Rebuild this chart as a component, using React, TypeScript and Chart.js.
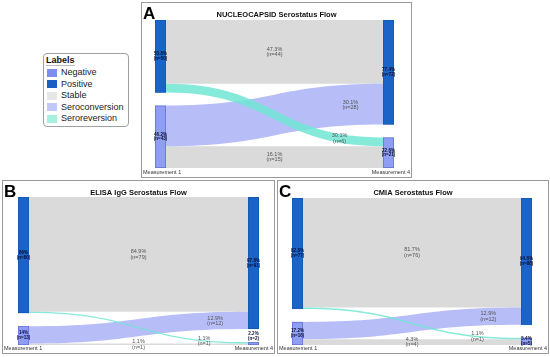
import React, { useEffect, useRef } from 'react';
import { Chart, registerables } from 'chart.js';
Chart.register(...registerables);

// ---------- data ----------
const measurementLabels = ['Measurement 1', 'Measurement 4'];
const stateNames = ['Positive', 'Negative'];
// flows: [stable positive, seroreversion (Pos->Neg), seroconversion (Neg->Pos), stable negative]
const flowTypes = ['Stable', 'Seroreversion', 'Seroconversion', 'Stable'];
const flowSource = [0, 0, 1, 1];
const flowTarget = [0, 1, 0, 1];

// NUCLEOCAPSID
const nucTitle = 'NUCLEOCAPSID Serostatus Flow';
const nucM1Counts = [50, 43];
const nucM1Pct = ['53.8%', '46.2%'];
const nucM4Counts = [72, 21];
const nucM4Pct = ['77.4%', '22.6%'];
const nucFlowCounts = [44, 6, 28, 15];
const nucFlowPct = ['47.3%', '30.1%', '30.1%', '16.1%'];

// ELISA IgG
const elisaTitle = 'ELISA IgG Serostatus Flow';
const elisaM1Counts = [80, 13];
const elisaM1Pct = ['86%', '14%'];
const elisaM4Counts = [91, 2];
const elisaM4Pct = ['97.8%', '2.2%'];
const elisaFlowCounts = [79, 1, 12, 1];
const elisaFlowPct = ['84.9%', '1.1%', '12.9%', '1.1%'];

// CMIA
const cmiaTitle = 'CMIA Serostatus Flow';
const cmiaM1Counts = [77, 16];
const cmiaM1Pct = ['82.8%', '17.2%'];
const cmiaM4Counts = [88, 5];
const cmiaM4Pct = ['94.6%', '5.4%'];
const cmiaFlowCounts = [76, 1, 12, 4];
const cmiaFlowPct = ['81.7%', '1.1%', '12.9%', '4.3%'];

const legendLabels = ['Negative', 'Positive', 'Stable', 'Seroconversion', 'Seroreversion'];

// ---------- styles ----------
const FONT = '"Liberation Sans", Arial, sans-serif';
const GAP_UNITS = 9;
const NODE_W = 11;
const nodeColors: Record<string, string> = { Positive: '#1a64c8', Negative: '#8f9ef2' };
const nodeBorders: Record<string, string> = { Positive: '#1656b0', Negative: '#5f6fd6' };
const flowColors: Record<string, string> = {
  Stable: 'rgba(216,216,216,0.95)',
  Seroconversion: 'rgba(176,183,246,0.92)',
  Seroreversion: 'rgba(112,230,212,0.85)',
};
const legendColors = ['#7d8ef0', '#1a5fc4', '#e6e6e6', '#c3c7f8', '#a6f0e0'];
const labelFrac: Record<string, number> = { Stable: 0.5, Seroconversion: 0.85, Seroreversion: 0.8 };
const drawOrder = ['Stable', 'Seroconversion', 'Seroreversion'];

type Panel = {
  letter: string;
  title: string;
  m1: number[];
  m1Pct: string[];
  m4: number[];
  m4Pct: string[];
  flows: number[];
  flowPct: string[];
  box: { x: number; y: number; w: number; h: number };
  pad: { left: number; right: number; top: number; bottom: number };
};

const panels: Panel[] = [
  {
    letter: 'A', title: nucTitle, m1: nucM1Counts, m1Pct: nucM1Pct, m4: nucM4Counts, m4Pct: nucM4Pct,
    flows: nucFlowCounts, flowPct: nucFlowPct,
    box: { x: 141, y: 2, w: 271, h: 176 }, pad: { left: 14, right: 18, top: 18, bottom: 10 },
  },
  {
    letter: 'B', title: elisaTitle, m1: elisaM1Counts, m1Pct: elisaM1Pct, m4: elisaM4Counts, m4Pct: elisaM4Pct,
    flows: elisaFlowCounts, flowPct: elisaFlowPct,
    box: { x: 2, y: 180, w: 273, h: 174 }, pad: { left: 16, right: 16, top: 17, bottom: 9 },
  },
  {
    letter: 'C', title: cmiaTitle, m1: cmiaM1Counts, m1Pct: cmiaM1Pct, m4: cmiaM4Counts, m4Pct: cmiaM4Pct,
    flows: cmiaFlowCounts, flowPct: cmiaFlowPct,
    box: { x: 277, y: 180, w: 272, h: 174 }, pad: { left: 15, right: 17, top: 18, bottom: 9 },
  },
];

function bez(p0: number, p1: number, p2: number, p3: number, t: number) {
  const u = 1 - t;
  return u * u * u * p0 + 3 * u * u * t * p1 + 3 * u * t * t * p2 + t * t * t * p3;
}

function starts(counts: number[]) {
  const s: number[] = [];
  let acc = 0;
  counts.forEach((c) => {
    s.push(acc);
    acc += c + GAP_UNITS;
  });
  return s;
}

function makePlugin(p: Panel) {
  return {
    id: 'sankey' + p.letter,
    afterDraw(chart: any) {
      const ctx: CanvasRenderingContext2D = chart.ctx;
      const xs = chart.scales.x;
      const ys = chart.scales.y;
      const W = chart.width;
      const H = chart.height;
      ctx.save();
      // frame
      ctx.strokeStyle = '#9a9a9a';
      ctx.lineWidth = 1;
      ctx.strokeRect(0.5, 0.5, W - 1, H - 1);
      // letter
      ctx.fillStyle = '#000';
      ctx.font = `bold 17px ${FONT}`;
      ctx.textAlign = 'left';
      ctx.textBaseline = 'alphabetic';
      ctx.fillText(p.letter, 2, 16.5);
      // title
      ctx.font = `bold 7.5px ${FONT}`;
      ctx.textAlign = 'center';
      ctx.textBaseline = 'middle';
      ctx.fillStyle = '#111';
      ctx.fillText(p.title, W / 2, 12.5);
      // measurement labels
      ctx.font = `5.5px ${FONT}`;
      ctx.fillStyle = '#333';
      ctx.textAlign = 'left';
      ctx.fillText(measurementLabels[0], 2, H - 5.5);
      ctx.textAlign = 'right';
      ctx.fillText(measurementLabels[1], W - 2, H - 5.5);

      const xL0 = xs.getPixelForValue(0);
      const xL1 = xL0 + NODE_W;
      const xR1 = xs.getPixelForValue(1);
      const xR0 = xR1 - NODE_W;
      const xm = (xL1 + xR0) / 2;
      const sL = starts(p.m1);
      const sR = starts(p.m4);
      const offL = [...sL];
      const offR = [...sR];
      const geo = p.flows.map((c, i) => {
        const a0 = offL[flowSource[i]];
        offL[flowSource[i]] += c;
        const b0 = offR[flowTarget[i]];
        offR[flowTarget[i]] += c;
        return {
          ya0: ys.getPixelForValue(a0), ya1: ys.getPixelForValue(a0 + c),
          yb0: ys.getPixelForValue(b0), yb1: ys.getPixelForValue(b0 + c),
        };
      });
      // flows
      drawOrder.forEach((type) => {
        p.flows.forEach((c, i) => {
          if (flowTypes[i] !== type) return;
          const g = geo[i];
          ctx.fillStyle = flowColors[type];
          ctx.beginPath();
          ctx.moveTo(xL1, g.ya0);
          ctx.bezierCurveTo(xm, g.ya0, xm, g.yb0, xR0, g.yb0);
          ctx.lineTo(xR0, g.yb1);
          ctx.bezierCurveTo(xm, g.yb1, xm, g.ya1, xL1, g.ya1);
          ctx.closePath();
          ctx.fill();
        });
      });
      // flow labels
      ctx.font = `5.5px ${FONT}`;
      ctx.fillStyle = '#555';
      ctx.textAlign = 'center';
      ctx.textBaseline = 'middle';
      p.flows.forEach((c, i) => {
        const g = geo[i];
        const f = labelFrac[flowTypes[i]];
        const targetX = xL1 + f * (xR0 - xL1);
        let lo = 0, hi = 1;
        for (let k = 0; k < 30; k++) {
          const mid = (lo + hi) / 2;
          if (bez(xL1, xm, xm, xR0, mid) < targetX) lo = mid; else hi = mid;
        }
        const t = (lo + hi) / 2;
        const ya = (g.ya0 + g.ya1) / 2;
        const yb = (g.yb0 + g.yb1) / 2;
        const y = bez(ya, ya, yb, yb, t);
        ctx.fillText(p.flowPct[i], targetX, y - 2.8);
        ctx.fillText(`(n=${c})`, targetX, y + 2.8);
      });
      // nodes
      const drawNodes = (counts: number[], pct: string[], s: number[], x0: number) => {
        counts.forEach((c, i) => {
          const name = stateNames[i];
          const y0 = ys.getPixelForValue(s[i]);
          const y1 = ys.getPixelForValue(s[i] + c);
          ctx.fillStyle = nodeColors[name];
          ctx.fillRect(x0, y0, NODE_W, y1 - y0);
          ctx.strokeStyle = nodeBorders[name];
          ctx.lineWidth = 0.7;
          ctx.strokeRect(x0 + 0.35, y0 + 0.35, NODE_W - 0.7, y1 - y0 - 0.7);
          let cy = (y0 + y1) / 2;
          if (y1 - y0 < 6) cy = y0 - 6;
          ctx.font = `bold 4.5px ${FONT}`;
          ctx.fillStyle = '#0b0b30';
          ctx.textAlign = 'center';
          ctx.textBaseline = 'middle';
          ctx.fillText(pct[i], x0 + NODE_W / 2, cy - 2.4);
          ctx.fillText(`(n=${c})`, x0 + NODE_W / 2, cy + 2.4);
        });
      };
      drawNodes(p.m1, p.m1Pct, sL, xL0);
      drawNodes(p.m4, p.m4Pct, sR, xR0);
      ctx.restore();
    },
  };
}

function makeChart(canvas: HTMLCanvasElement, p: Panel) {
  const total = p.m1.reduce((a, b) => a + b, 0) + GAP_UNITS * (p.m1.length - 1);
  return new Chart(canvas, {
    type: 'scatter',
    data: { datasets: [] },
    options: {
      responsive: false,
      maintainAspectRatio: false,
      animation: false,
      layout: { padding: p.pad },
      scales: {
        x: { type: 'linear', min: 0, max: 1, display: false },
        y: { type: 'linear', min: 0, max: total, reverse: true, display: false },
      },
      plugins: { legend: { display: false }, tooltip: { enabled: false }, title: { display: false } },
    },
    plugins: [makePlugin(p)],
  } as any);
}

function Legend() {
  return (
    <div
      style={{
        position: 'absolute', left: 43, top: 53, width: 84, height: 72,
        border: '1px solid #a0a0a0', borderRadius: 4, background: '#fff', fontFamily: FONT,
      }}
    >
      <div
        style={{
          position: 'absolute', left: 2, top: 1, fontWeight: 'bold', fontSize: 9, lineHeight: '10px',
          color: '#111', borderBottom: '1px solid #bdbdbd',
        }}
      >
        Labels
      </div>
      {legendLabels.map((l, i) => (
        <div key={l}>
          <div
            style={{
              position: 'absolute', left: 3, top: 14.5 + i * 11.6, width: 10, height: 8,
              background: legendColors[i],
            }}
          />
          <div
            style={{
              position: 'absolute', left: 17, top: 13 + i * 11.6, fontSize: 9, lineHeight: '11px',
              color: '#222', whiteSpace: 'nowrap',
            }}
          >
            {l}
          </div>
        </div>
      ))}
    </div>
  );
}

export default function App() {
  const r0 = useRef<HTMLCanvasElement>(null);
  const r1 = useRef<HTMLCanvasElement>(null);
  const r2 = useRef<HTMLCanvasElement>(null);
  const refs = [r0, r1, r2];
  useEffect(() => {
    const charts = panels.map((p, i) => makeChart(refs[i].current as HTMLCanvasElement, p));
    return () => charts.forEach((c) => c.destroy());
  }, []);
  return (
    <div style={{ position: 'fixed', left: 0, top: 0, width: 550, height: 357, background: '#fff', overflow: 'hidden' }}>
      {panels.map((p, i) => (
        <canvas
          key={p.letter}
          ref={refs[i]}
          width={p.box.w}
          height={p.box.h}
          style={{ position: 'absolute', left: p.box.x, top: p.box.y, width: p.box.w, height: p.box.h }}
        />
      ))}
      <Legend />
    </div>
  );
}
